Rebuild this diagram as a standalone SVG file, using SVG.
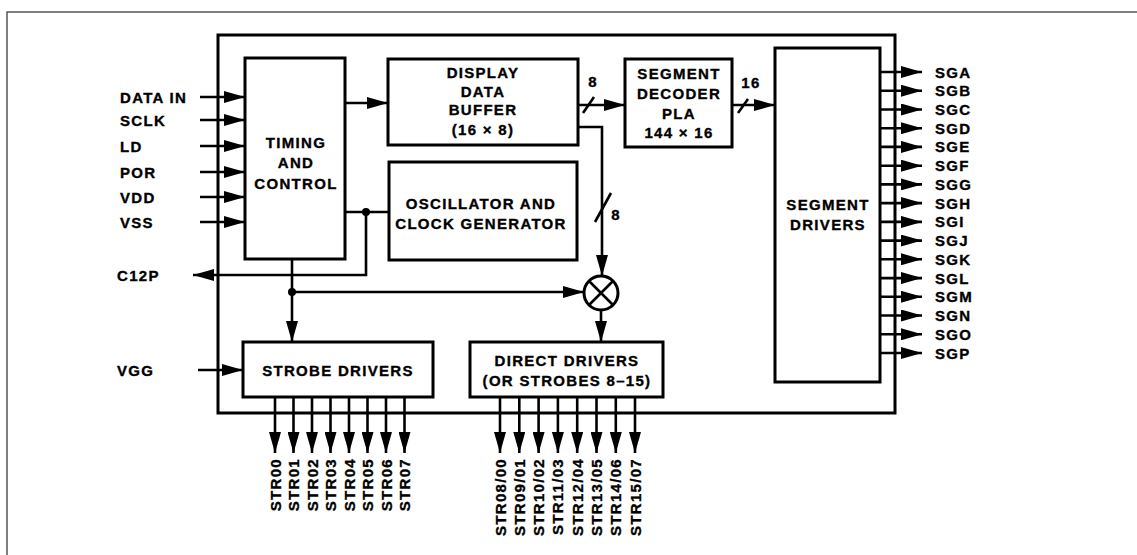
<svg xmlns="http://www.w3.org/2000/svg" width="1137" height="555" viewBox="0 0 1137 555">
<style>
.box{fill:none;stroke:#000;stroke-width:3}
.ln{fill:none;stroke:#000;stroke-width:2.6}
.t{font-family:"Liberation Sans",Arial,sans-serif;font-weight:bold;font-size:15px;letter-spacing:1.3px;fill:#000;stroke:#000;stroke-width:0.35}
.c{text-anchor:middle}
.r{text-anchor:end}
.frame{fill:none;stroke:#555;stroke-width:1.5}
</style>
<defs>
<marker id="ah" markerUnits="userSpaceOnUse" markerWidth="21" markerHeight="12" refX="21" refY="6" orient="auto">
<path d="M0,0 L21,6 L0,12 z" fill="#000"/>
</marker>
</defs>
<rect width="1137" height="555" fill="#fff"/>
<path class="frame" d="M7,555 L7,12 L1137,12"/>
<g id="chip"><rect class="box" x="218" y="35" width="677" height="378"/></g>

<g id="timing">
<rect class="box" x="245" y="58" width="100" height="201"/>
<text class="t c" x="296" y="148">TIMING</text>
<text class="t c" x="296" y="168">AND</text>
<text class="t c" x="296" y="189">CONTROL</text>
</g>
<g id="ddb">
<rect class="box" x="388" y="59" width="190" height="86"/>
<text class="t c" x="483" y="78">DISPLAY</text>
<text class="t c" x="483" y="96.5">DATA</text>
<text class="t c" x="483" y="115">BUFFER</text>
<text class="t c" x="483" y="135">(16 × 8)</text>
</g>
<g id="segdec">
<rect class="box" x="625" y="59" width="107" height="88"/>
<text class="t c" x="679" y="78.5">SEGMENT</text>
<text class="t c" x="679" y="98.5">DECODER</text>
<text class="t c" x="679" y="118.5">PLA</text>
<text class="t c" x="679" y="137.5">144 × 16</text>
</g>
<g id="osc">
<rect class="box" x="389" y="162" width="188" height="98"/>
<text class="t c" x="481" y="208.5">OSCILLATOR AND</text>
<text class="t c" x="481" y="228.5">CLOCK GENERATOR</text>
</g>
<g id="segdrv">
<rect class="box" x="775" y="48" width="105" height="334"/>
<text class="t c" x="828" y="209.5">SEGMENT</text>
<text class="t c" x="828" y="229.5">DRIVERS</text>
</g>
<g id="strobe">
<rect class="box" x="243" y="342" width="190" height="55"/>
<text class="t c" x="338" y="375.5">STROBE DRIVERS</text>
</g>
<g id="direct">
<rect class="box" x="470" y="342" width="193" height="55"/>
<text class="t c" x="567" y="365.5">DIRECT DRIVERS</text>
<text class="t c" x="567" y="386">(OR STROBES 8–15)</text>
</g>
<g id="mixer">
<circle class="box" cx="601" cy="293" r="17"/>
<path class="ln" d="M589,281 L613,305 M613,281 L589,305"/>
</g>

<g id="connectors">
<path class="ln" marker-end="url(#ah)" d="M200,97 H245"/>
<path class="ln" marker-end="url(#ah)" d="M200,120 H245"/>
<path class="ln" marker-end="url(#ah)" d="M200,146 H245"/>
<path class="ln" marker-end="url(#ah)" d="M200,172 H245"/>
<path class="ln" marker-end="url(#ah)" d="M200,197 H245"/>
<path class="ln" marker-end="url(#ah)" d="M200,222 H245"/>
<path class="ln" marker-end="url(#ah)" d="M198,370 H243"/>
<path class="ln" marker-end="url(#ah)" d="M345,103 H388"/>
<path class="ln" d="M345,212 H389"/>
<circle cx="366" cy="212" r="4" fill="#000"/>
<path class="ln" marker-end="url(#ah)" d="M366,212 V275 H193"/>
<path class="ln" marker-end="url(#ah)" d="M292,259 V342"/>
<circle cx="292" cy="292" r="4" fill="#000"/>
<path class="ln" marker-end="url(#ah)" d="M292,292 H584"/>
<path class="ln" marker-end="url(#ah)" d="M578,105 H625"/>
<path class="ln" d="M583,113 L594,97"/>
<text class="t c" x="593" y="87">8</text>
<path class="ln" marker-end="url(#ah)" d="M578,127 H602 V276"/>
<path class="ln" d="M595,222 L611,193"/>
<text class="t c" x="616" y="220">8</text>
<path class="ln" marker-end="url(#ah)" d="M732,105 H775"/>
<path class="ln" d="M738,113 L748,99"/>
<text class="t c" x="751" y="88">16</text>
<path class="ln" marker-end="url(#ah)" d="M601,310 V342"/>

<path class="ln" marker-end="url(#ah)" d="M880,72 H922"/>
<path class="ln" marker-end="url(#ah)" d="M880,90.7 H922"/>
<path class="ln" marker-end="url(#ah)" d="M880,109.5 H922"/>
<path class="ln" marker-end="url(#ah)" d="M880,128.2 H922"/>
<path class="ln" marker-end="url(#ah)" d="M880,146.9 H922"/>
<path class="ln" marker-end="url(#ah)" d="M880,165.7 H922"/>
<path class="ln" marker-end="url(#ah)" d="M880,184.4 H922"/>
<path class="ln" marker-end="url(#ah)" d="M880,203.1 H922"/>
<path class="ln" marker-end="url(#ah)" d="M880,221.9 H922"/>
<path class="ln" marker-end="url(#ah)" d="M880,240.6 H922"/>
<path class="ln" marker-end="url(#ah)" d="M880,259.3 H922"/>
<path class="ln" marker-end="url(#ah)" d="M880,278.1 H922"/>
<path class="ln" marker-end="url(#ah)" d="M880,296.8 H922"/>
<path class="ln" marker-end="url(#ah)" d="M880,315.5 H922"/>
<path class="ln" marker-end="url(#ah)" d="M880,334.3 H922"/>
<path class="ln" marker-end="url(#ah)" d="M880,353 H922"/>

<path class="ln" marker-end="url(#ah)" d="M275,397 V453"/>
<path class="ln" marker-end="url(#ah)" d="M293.5,397 V453"/>
<path class="ln" marker-end="url(#ah)" d="M312,397 V453"/>
<path class="ln" marker-end="url(#ah)" d="M330.5,397 V453"/>
<path class="ln" marker-end="url(#ah)" d="M349,397 V453"/>
<path class="ln" marker-end="url(#ah)" d="M367.5,397 V453"/>
<path class="ln" marker-end="url(#ah)" d="M386,397 V453"/>
<path class="ln" marker-end="url(#ah)" d="M404.5,397 V453"/>

<path class="ln" marker-end="url(#ah)" d="M500,397 V453"/>
<path class="ln" marker-end="url(#ah)" d="M519.3,397 V453"/>
<path class="ln" marker-end="url(#ah)" d="M538.6,397 V453"/>
<path class="ln" marker-end="url(#ah)" d="M557.9,397 V453"/>
<path class="ln" marker-end="url(#ah)" d="M577.2,397 V453"/>
<path class="ln" marker-end="url(#ah)" d="M596.5,397 V453"/>
<path class="ln" marker-end="url(#ah)" d="M615.8,397 V453"/>
<path class="ln" marker-end="url(#ah)" d="M635,397 V453"/>
</g>

<g id="labels">
<text class="t" x="120" y="102.5">DATA IN</text>
<text class="t" x="120" y="125.5">SCLK</text>
<text class="t" x="120" y="151.5">LD</text>
<text class="t" x="120" y="177.5">POR</text>
<text class="t" x="120" y="202.5">VDD</text>
<text class="t" x="120" y="227.5">VSS</text>
<text class="t" x="117" y="280.5">C12P</text>
<text class="t" x="117" y="375.5">VGG</text>

<text class="t" x="935" y="77.5">SGA</text>
<text class="t" x="935" y="96.2">SGB</text>
<text class="t" x="935" y="115">SGC</text>
<text class="t" x="935" y="133.7">SGD</text>
<text class="t" x="935" y="152.4">SGE</text>
<text class="t" x="935" y="171.2">SGF</text>
<text class="t" x="935" y="189.9">SGG</text>
<text class="t" x="935" y="208.6">SGH</text>
<text class="t" x="935" y="227.4">SGI</text>
<text class="t" x="935" y="246.1">SGJ</text>
<text class="t" x="935" y="264.8">SGK</text>
<text class="t" x="935" y="283.6">SGL</text>
<text class="t" x="935" y="302.3">SGM</text>
<text class="t" x="935" y="321">SGN</text>
<text class="t" x="935" y="339.8">SGO</text>
<text class="t" x="935" y="358.5">SGP</text>

<text class="t r" transform="translate(280.5,458) rotate(-90)">STR00</text>
<text class="t r" transform="translate(299,458) rotate(-90)">STR01</text>
<text class="t r" transform="translate(317.5,458) rotate(-90)">STR02</text>
<text class="t r" transform="translate(336,458) rotate(-90)">STR03</text>
<text class="t r" transform="translate(354.5,458) rotate(-90)">STR04</text>
<text class="t r" transform="translate(373,458) rotate(-90)">STR05</text>
<text class="t r" transform="translate(391.5,458) rotate(-90)">STR06</text>
<text class="t r" transform="translate(410,458) rotate(-90)">STR07</text>

<text class="t r" transform="translate(505.5,458) rotate(-90)">STR08/00</text>
<text class="t r" transform="translate(524.8,458) rotate(-90)">STR09/01</text>
<text class="t r" transform="translate(544.1,458) rotate(-90)">STR10/02</text>
<text class="t r" transform="translate(563.4,458) rotate(-90)">STR11/03</text>
<text class="t r" transform="translate(582.7,458) rotate(-90)">STR12/04</text>
<text class="t r" transform="translate(602,458) rotate(-90)">STR13/05</text>
<text class="t r" transform="translate(621.3,458) rotate(-90)">STR14/06</text>
<text class="t r" transform="translate(640.5,458) rotate(-90)">STR15/07</text>
</g>
</svg>
